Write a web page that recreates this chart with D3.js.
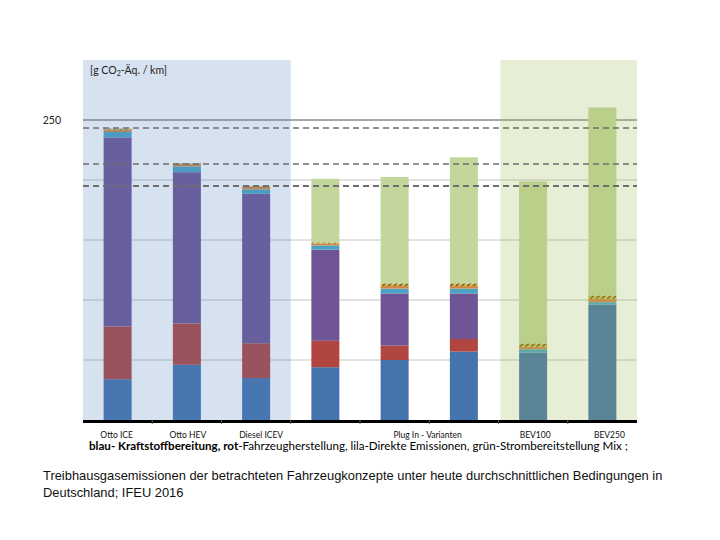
<!DOCTYPE html>
<html><head><meta charset="utf-8">
<script src="https://cdn.jsdelivr.net/npm/d3@7"></script>
<style>body{margin:0;background:#fff}svg{display:block}</style>
</head><body><svg id="c" width="720" height="540"></svg>
<script>
// ---- data ----
const categories = ["Otto ICE","Otto HEV","Diesel ICEV","PHEV 1","PHEV 2","PHEV 3","BEV100","BEV250"];
const tickLabels = ["Otto ICE","Otto HEV","Diesel ICEV","","Plug In - Varianten","","BEV100","BEV250"];
const fuel    = [34, 46, 35, 44, 50, 57, 56, 96];        // blau - Kraftstoffbereitung
const vehicle = [44, 34.5, 29, 22, 12, 10.5, 0, 0];      // rot - Fahrzeugherstellung
const direct  = [157.5, 126, 124.5, 76, 43.5, 38, 0, 0]; // lila - Direkte Emissionen
const teal    = [4.5, 4.8, 3.6, 3.5, 4, 4, 3, 2.2];
const orange  = [2, 2, 2.4, 1.5, 2.2, 2.2, 2, 2.8];
const hatch   = [0.8, 0.5, 0.4, 1, 2.2, 2.2, 2.8, 2.8];
const green   = [0, 0, 0, 53, 88.6, 105, 135, 156.6];    // grün - Strombereitstellung Mix
const refLines = [243.3, 213.3, 195];
const gridTicks = [50, 100, 150, 200, 250];
const yLabelTicks = [250];

const seriesNames = ["fuel","vehicle","direct","teal","orange","hatch","green"];
const seriesVals = {fuel, vehicle, direct, teal, orange, hatch, green};
const colors = {fuel:"#4573AD", vehicle:"#B1453F", direct:"#705596", teal:"#4BA3C3", orange:"#D08A45", hatch:"url(#hatchP)", green:"#C3D69B"};

const svg = d3.select("#c");
const defs = svg.append("defs");
const pat = defs.append("pattern").attr("id","hatchP").attr("patternUnits","userSpaceOnUse")
  .attr("width",4).attr("height",4).attr("patternTransform","rotate(45)");
pat.append("rect").attr("width",4).attr("height",4).attr("fill","#E0BE48");
pat.append("rect").attr("width",1.6).attr("height",4).attr("fill","#5F5B30");

const x = d3.scaleBand().domain(categories).range([83, 637]).paddingInner(0).paddingOuter(0);
const y = d3.scaleLinear().domain([0, 300]).range([420, 60]);
const bw = 28;

// grid
svg.append("g").selectAll("line").data(gridTicks).join("line")
  .attr("x1",83).attr("x2",637).attr("y1",d=>y(d)).attr("y2",d=>y(d))
  .attr("stroke",d=>d===250?"#A8A8A8":"#C4C4C4").attr("stroke-width",d=>d===250?2:1);

// bars
const rows = categories.map((c,i)=>{const o={cat:c}; seriesNames.forEach(s=>o[s]=seriesVals[s][i]); return o;});
const stack = d3.stack().keys(seriesNames)(rows);
svg.append("g").selectAll("g").data(stack).join("g").attr("fill",d=>colors[d.key])
  .selectAll("rect").data(d=>d).join("rect")
  .attr("x",d=>x(d.data.cat)+(x.bandwidth()-bw)/2).attr("width",bw)
  .attr("y",d=>y(d[1])).attr("height",d=>Math.max(0,y(d[0])-y(d[1])));

// panels (semi-transparent overlays)
svg.append("rect").attr("x",x(categories[0])).attr("y",y(300)).attr("width",x.bandwidth()*3)
  .attr("height",y(0)-y(300)).attr("fill","#4F81BD").attr("opacity",0.23);
svg.append("rect").attr("x",x(categories[6])+2).attr("y",y(300)).attr("width",x.bandwidth()*2-2)
  .attr("height",y(0)-y(300)).attr("fill","#9BBB59").attr("opacity",0.25);

// reference dashed lines
svg.append("g").selectAll("line").data(refLines).join("line")
  .attr("x1",83).attr("x2",637).attr("y1",d=>y(d)).attr("y2",d=>y(d))
  .attr("stroke","#6E6E6E").attr("stroke-width",(d,i)=>i===2?2:1.4).attr("stroke-dasharray","6,4");

// axis
svg.append("line").attr("x1",83).attr("x2",637).attr("y1",421.5).attr("y2",421.5).attr("stroke","#000").attr("stroke-width",3);
svg.append("g").selectAll("line").data(categories.slice(1)).join("line")
  .attr("x1",d=>x(d)).attr("x2",d=>x(d)).attr("y1",420).attr("y2",424).attr("stroke","#555").attr("stroke-width",1);

// category labels
const lblShift = [-1, 1, 5, 0, 33, 0, 2, 7];
svg.append("g").selectAll("text").data(tickLabels).join("text")
  .attr("x",(d,i)=>x(categories[i])+x.bandwidth()/2+lblShift[i]).attr("y",438)
  .attr("text-anchor","middle").attr("font-family","Lato, 'Open Sans', sans-serif").attr("font-size",8.5)
  .attr("fill","#111").text(d=>d);

// y label
svg.append("g").selectAll("text").data(yLabelTicks).join("text")
  .attr("x",61).attr("y",d=>y(d)+4).attr("text-anchor","end")
  .attr("font-family","Lato, sans-serif").attr("font-size",10.5).attr("fill","#222").text(d=>d);

const unit = svg.append("text").attr("x",90).attr("y",74).attr("font-family","Lato, sans-serif").attr("font-size",10.5).attr("fill","#222");
unit.append("tspan").text("[g CO");
unit.append("tspan").attr("font-size",7).attr("dy",2).text("2");
unit.append("tspan").attr("dy",-2).text("-Äq. / km]");

// legend line
const lg = svg.append("text").attr("x",89).attr("y",450).attr("font-family","Lato, sans-serif").attr("font-size",11.6).attr("fill","#000");
lg.append("tspan").attr("font-weight","bold").text("blau- Kraftstoffbereitung, rot");
lg.append("tspan").text("-Fahrzeugherstellung, lila-Direkte Emissionen, grün-Strombereitstellung Mix ;");

// caption
svg.append("text").attr("x",43).attr("y",480).attr("font-family","'Liberation Sans', Arial, sans-serif").attr("font-size",12.9).attr("fill","#111")
  .text("Treibhausgasemissionen der betrachteten Fahrzeugkonzepte unter heute durchschnittlichen Bedingungen in");
svg.append("text").attr("x",43).attr("y",497).attr("font-family","'Liberation Sans', Arial, sans-serif").attr("font-size",12.9).attr("fill","#111")
  .text("Deutschland; IFEU 2016");
</script></body></html>
